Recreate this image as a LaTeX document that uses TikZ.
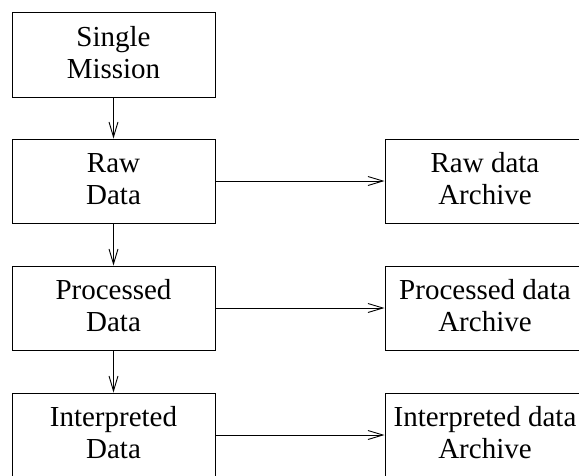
\documentclass[tikz,border=0pt]{standalone}
\usepackage{fontspec}
\setmainfont{Liberation Serif}
\usetikzlibrary{arrows.meta}
\begin{document}
\begin{tikzpicture}[x=1pt,y=-1pt,
 box/.style={draw, line width=1pt, minimum width=203pt, minimum height=84pt, inner sep=0pt, align=center, text depth=5pt, font=\fontsize{29}{32}\selectfont},
 rbox/.style={box, minimum width=200pt},
 conn/.style={line width=0.9pt, -{Straight Barb[length=15pt,width=9pt]}}]
\useasboundingbox (0,0) rectangle (579,475);
\clip (0,0) rectangle (579,475);
\node[box, minimum height=85pt] (sm) at (113.5,54.5) {Single\\Mission};
\node[box] (raw) at (113.5,181) {Raw\\Data};
\node[box] (proc) at (113.5,308) {Processed\\Data};
\node[box] (interp) at (113.5,435) {Interpreted\\Data};
\node[rbox] (rawa) at (485,181) {Raw data\\Archive};
\node[rbox] (proca) at (485,308) {Processed data\\Archive};
\node[rbox] (interpa) at (485,435) {Interpreted data\\Archive};
\draw[conn] (sm) -- (raw);
\draw[conn] (raw) -- (proc);
\draw[conn] (proc) -- (interp);
\draw[conn] (raw) -- (rawa);
\draw[conn] (proc) -- (proca);
\draw[conn] (interp) -- (interpa);
\end{tikzpicture}
\end{document}
